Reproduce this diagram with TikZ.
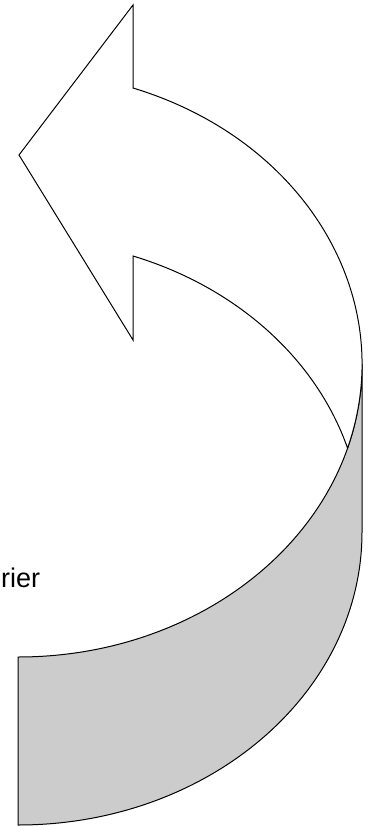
\documentclass[tikz,border=0pt]{standalone}
\usepackage{fontspec}
\setmainfont{Liberation Sans}
\usepackage{xcolor}
\usepackage{tikz}
\usetikzlibrary{positioning}

\definecolor{backgray}{RGB}{204,204,204}

\begin{document}
\begin{tikzpicture}[
    x=1pt, y=1pt,
    outline/.style={draw=black, line width=1pt, line join=miter},
    frontface/.style={outline, fill=white},
    backface/.style={outline, fill=backgray},
    sidetext/.style={font=\fontsize{27}{31}\selectfont, inner sep=0pt, anchor=base west}
]
\useasboundingbox (0,0) rectangle (371,-826);

% Shaded back of the ribbon
\path[backface] (362,-364) arc[start angle=0, end angle=-90, x radius=344, y radius=293]
    -- (18,-825) arc[start angle=-90, end angle=0, x radius=344, y radius=293] -- cycle;

% Arrow head and front of the ribbon
\path[frontface] (133,-5) -- (19,-155) -- (133,-340) -- (133,-256)
    arc[start angle=70.47, end angle=16.66, x radius=344, y radius=293]
    arc[start angle=-16.66, end angle=70.47, x radius=344, y radius=293] -- cycle;

% Text cut at the left border
\node[sidetext] (carrier) at (1,-587) {rier};

\end{tikzpicture}
\end{document}
